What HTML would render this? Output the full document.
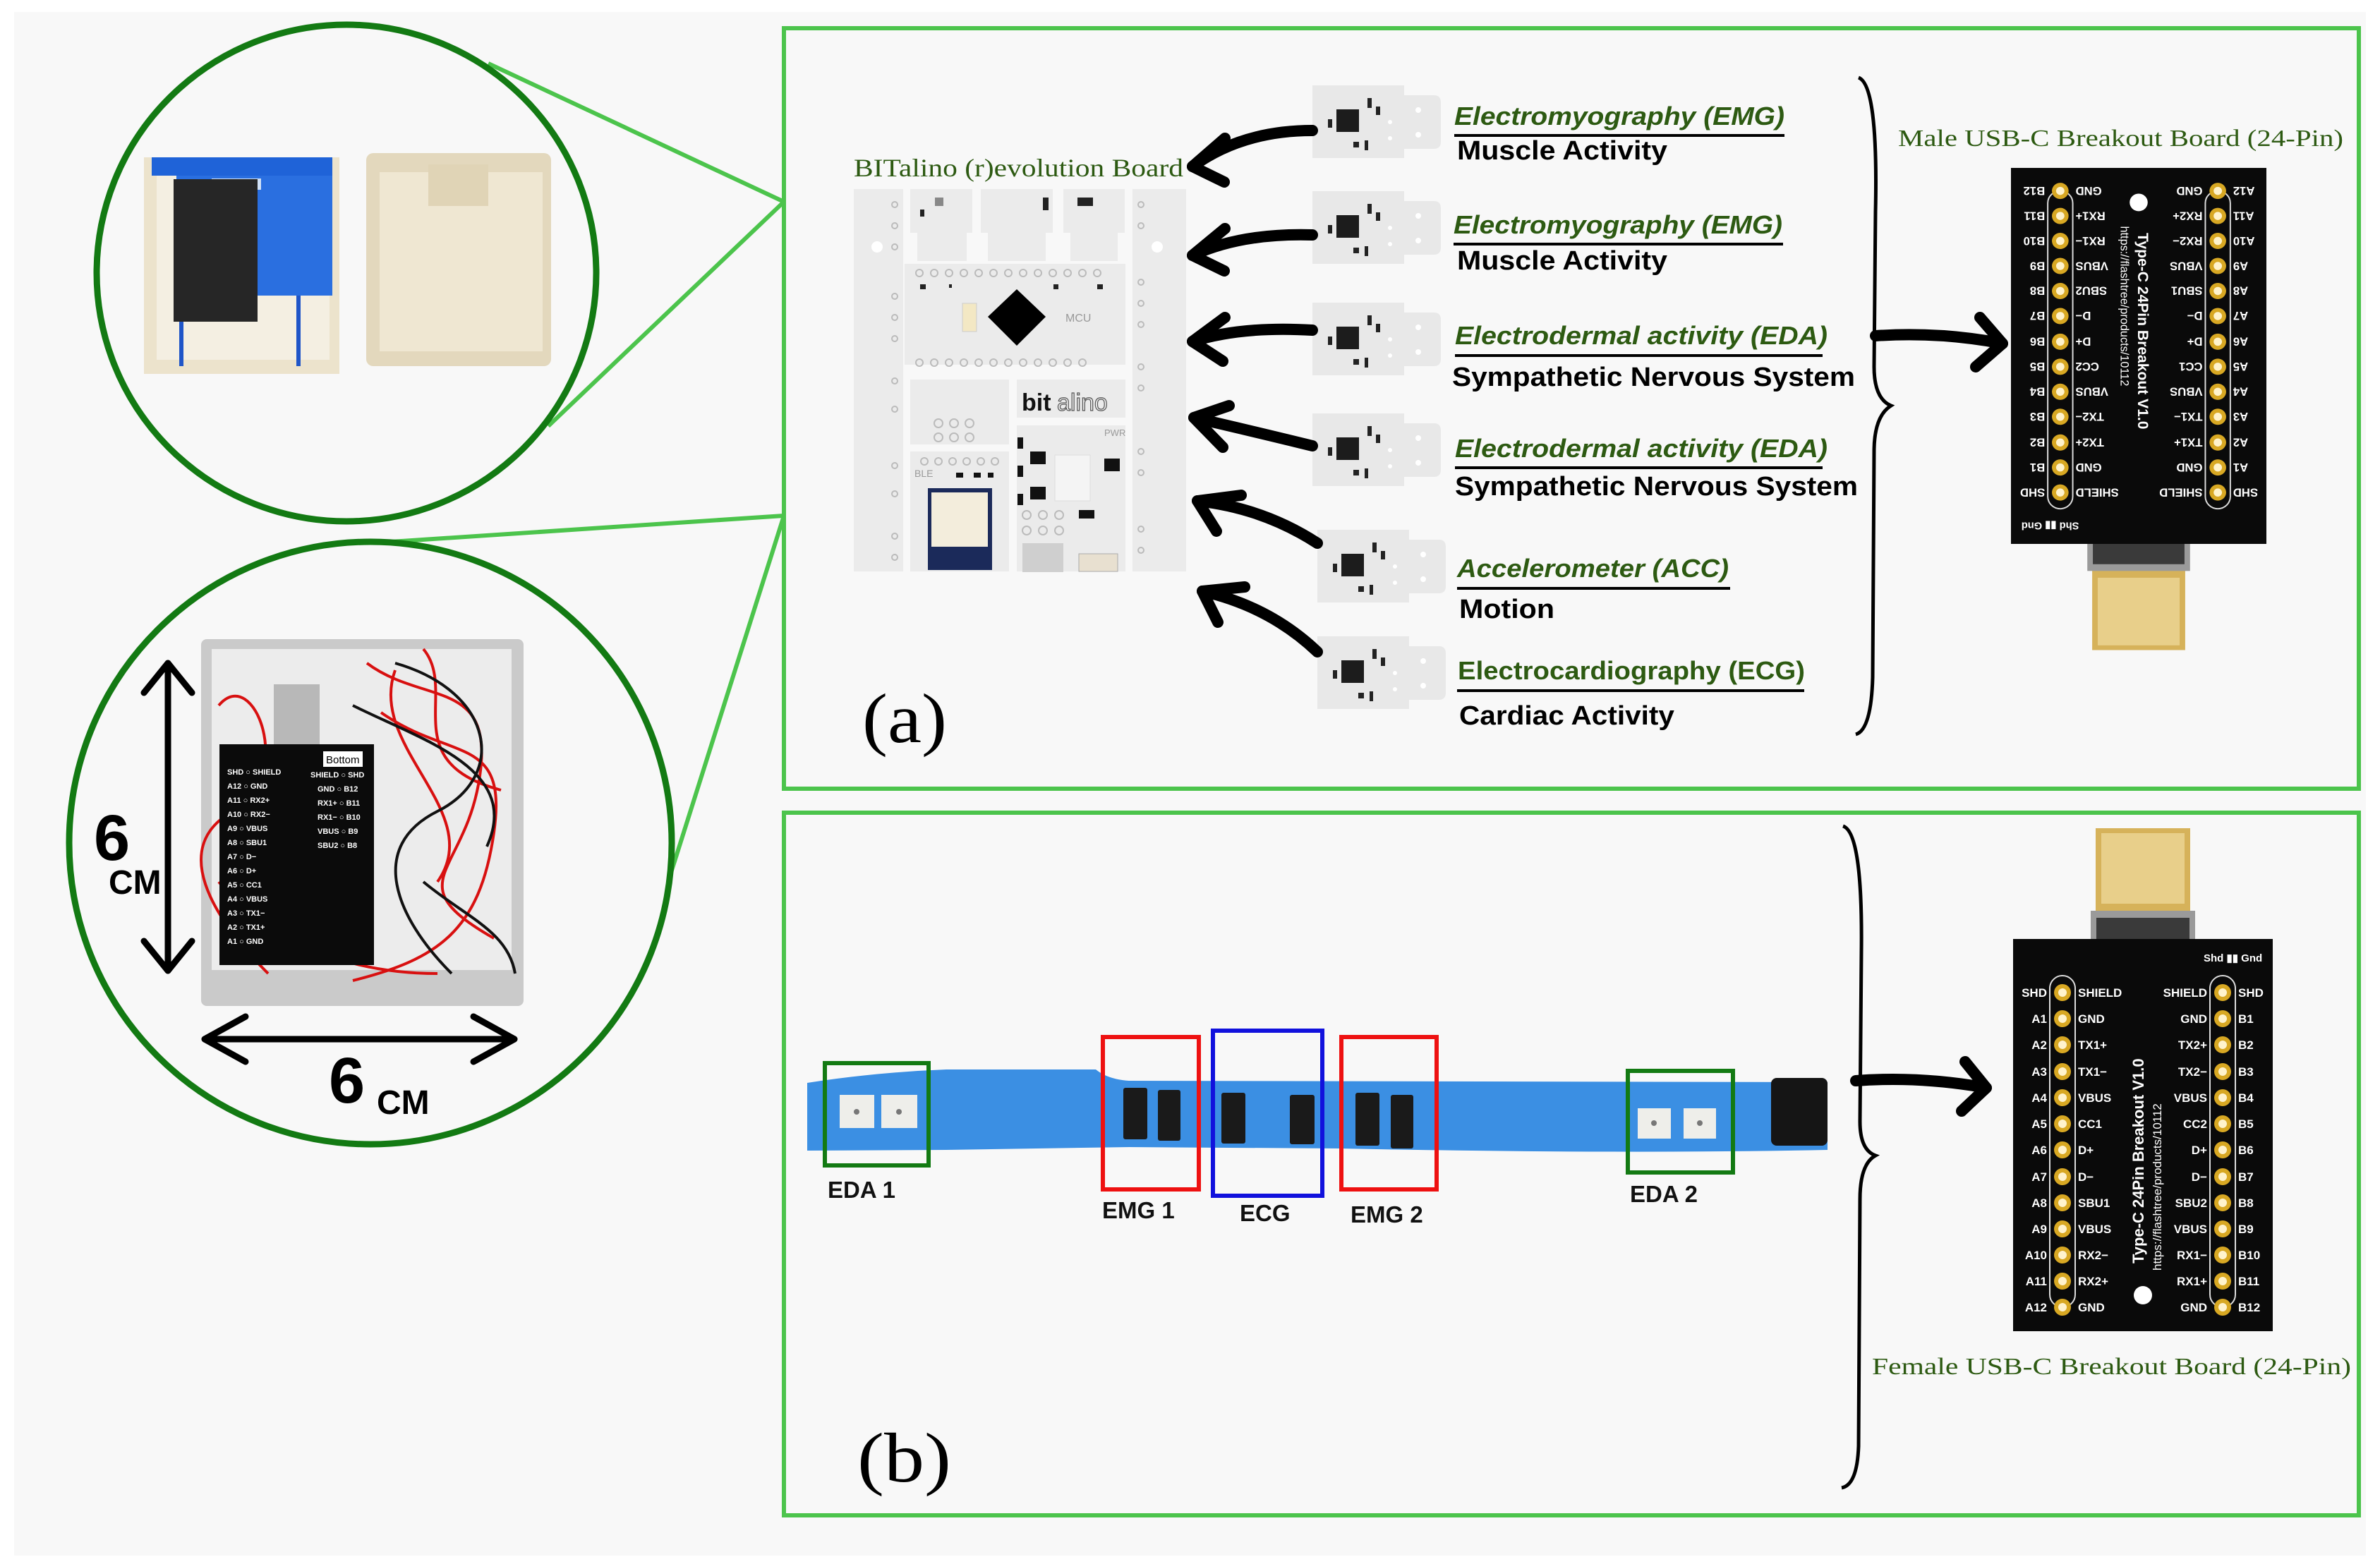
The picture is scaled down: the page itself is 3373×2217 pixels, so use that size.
<!DOCTYPE html>
<html><head><meta charset="utf-8">
<style>
html,body{margin:0;padding:0;background:#fff;}
svg{display:block;}
text{font-family:"Liberation Sans",sans-serif;}
.lab{font-family:"Liberation Sans Narrow","Liberation Sans",sans-serif;font-weight:bold;}
.ser{font-family:"Liberation Serif",serif;}
.mono{font-family:"Liberation Mono",monospace;font-weight:bold;}
.pn{font-family:"Liberation Sans",sans-serif;font-weight:bold;fill:#fff;font-size:17px;}
</style></head><body>
<svg width="3373" height="2217" viewBox="0 0 3373 2217" xmlns="http://www.w3.org/2000/svg">
<defs>
<g id="mod">
  <path d="M0,0 H130 V14 H172 Q182,14 182,24 V80 Q182,90 172,90 H130 V103 H0 Z" fill="#e8e8e8"/>
  <rect x="34" y="34" width="32" height="32" fill="#1c1c1c"/>
  <rect x="78" y="18" width="6" height="14" fill="#222"/><rect x="90" y="30" width="6" height="12" fill="#222"/>
  <rect x="22" y="48" width="6" height="12" fill="#222"/><rect x="58" y="80" width="8" height="8" fill="#222"/>
  <rect x="74" y="78" width="5" height="14" fill="#222"/>
  <circle cx="150" cy="35" r="4" fill="#fff"/><circle cx="150" cy="70" r="4" fill="#fff"/>
  <circle cx="110" cy="52" r="3" fill="#fff"/><circle cx="110" cy="75" r="3" fill="#fff"/>
</g>
<g id="usb">
  <rect x="117" y="-157" width="134" height="120" fill="#d6b25a"/>
  <rect x="125" y="-150" width="118" height="100" fill="#e8cf8a"/>
  <rect x="110" y="-40" width="148" height="55" fill="#9a9a9a"/>
  <rect x="118" y="-30" width="132" height="40" fill="#3a3a3a"/>
  <rect x="0" y="0" width="368" height="556" fill="#0a0a0a"/>
  <rect x="52" y="52" width="36" height="470" rx="18" fill="none" stroke="#ddd" stroke-width="2"/>
  <rect x="279" y="52" width="36" height="470" rx="18" fill="none" stroke="#ddd" stroke-width="2"/>
  <g fill="#d8a823">
    <circle cx="70" cy="76" r="12"/><circle cx="70" cy="113" r="12"/><circle cx="70" cy="150" r="12"/><circle cx="70" cy="188" r="12"/><circle cx="70" cy="225" r="12"/><circle cx="70" cy="262" r="12"/><circle cx="70" cy="299" r="12"/><circle cx="70" cy="337" r="12"/><circle cx="70" cy="374" r="12"/><circle cx="70" cy="411" r="12"/><circle cx="70" cy="448" r="12"/><circle cx="70" cy="485" r="12"/><circle cx="70" cy="522" r="12"/>
    <circle cx="297" cy="76" r="12"/><circle cx="297" cy="113" r="12"/><circle cx="297" cy="150" r="12"/><circle cx="297" cy="188" r="12"/><circle cx="297" cy="225" r="12"/><circle cx="297" cy="262" r="12"/><circle cx="297" cy="299" r="12"/><circle cx="297" cy="337" r="12"/><circle cx="297" cy="374" r="12"/><circle cx="297" cy="411" r="12"/><circle cx="297" cy="448" r="12"/><circle cx="297" cy="485" r="12"/><circle cx="297" cy="522" r="12"/>
  </g>
  <g fill="#fff3cc">
    <circle cx="70" cy="76" r="6"/><circle cx="70" cy="113" r="6"/><circle cx="70" cy="150" r="6"/><circle cx="70" cy="188" r="6"/><circle cx="70" cy="225" r="6"/><circle cx="70" cy="262" r="6"/><circle cx="70" cy="299" r="6"/><circle cx="70" cy="337" r="6"/><circle cx="70" cy="374" r="6"/><circle cx="70" cy="411" r="6"/><circle cx="70" cy="448" r="6"/><circle cx="70" cy="485" r="6"/><circle cx="70" cy="522" r="6"/>
    <circle cx="297" cy="76" r="6"/><circle cx="297" cy="113" r="6"/><circle cx="297" cy="150" r="6"/><circle cx="297" cy="188" r="6"/><circle cx="297" cy="225" r="6"/><circle cx="297" cy="262" r="6"/><circle cx="297" cy="299" r="6"/><circle cx="297" cy="337" r="6"/><circle cx="297" cy="374" r="6"/><circle cx="297" cy="411" r="6"/><circle cx="297" cy="448" r="6"/><circle cx="297" cy="485" r="6"/><circle cx="297" cy="522" r="6"/>
  </g>
  <g class="pn" text-anchor="end">
    <text x="48" y="82">SHD</text><text x="48" y="119">A1</text><text x="48" y="156">A2</text><text x="48" y="194">A3</text><text x="48" y="231">A4</text><text x="48" y="268">A5</text><text x="48" y="305">A6</text><text x="48" y="343">A7</text><text x="48" y="380">A8</text><text x="48" y="417">A9</text><text x="48" y="454">A10</text><text x="48" y="491">A11</text><text x="48" y="528">A12</text>
    <text x="275" y="82">SHIELD</text><text x="275" y="119">GND</text><text x="275" y="156">TX2+</text><text x="275" y="194">TX2−</text><text x="275" y="231">VBUS</text><text x="275" y="268">CC2</text><text x="275" y="305">D+</text><text x="275" y="343">D−</text><text x="275" y="380">SBU2</text><text x="275" y="417">VBUS</text><text x="275" y="454">RX1−</text><text x="275" y="491">RX1+</text><text x="275" y="528">GND</text>
  </g>
  <g class="pn">
    <text x="92" y="82">SHIELD</text><text x="92" y="119">GND</text><text x="92" y="156">TX1+</text><text x="92" y="194">TX1−</text><text x="92" y="231">VBUS</text><text x="92" y="268">CC1</text><text x="92" y="305">D+</text><text x="92" y="343">D−</text><text x="92" y="380">SBU1</text><text x="92" y="417">VBUS</text><text x="92" y="454">RX2−</text><text x="92" y="491">RX2+</text><text x="92" y="528">GND</text>
    <text x="319" y="82">SHD</text><text x="319" y="119">B1</text><text x="319" y="156">B2</text><text x="319" y="194">B3</text><text x="319" y="231">B4</text><text x="319" y="268">B5</text><text x="319" y="305">B6</text><text x="319" y="343">B7</text><text x="319" y="380">B8</text><text x="319" y="417">B9</text><text x="319" y="454">B10</text><text x="319" y="491">B11</text><text x="319" y="528">B12</text>
    <text x="270" y="32" font-size="15">Shd ▮▮ Gnd</text>
  </g>
  <text transform="translate(185,460) rotate(-90)" fill="#fff" font-size="22" font-weight="bold">Type-C 24Pin Breakout V1.0</text>
  <text transform="translate(210,470) rotate(-90)" fill="#fff" font-size="17">https://flashtree/products/10112</text>
  <circle cx="184" cy="505" r="13" fill="#fff"/>
</g>
</defs>

<rect x="0" y="0" width="3373" height="2217" fill="#fff"/>
<rect x="20" y="17" width="3333" height="2188" fill="#f8f8f8"/>

<!-- connecting lines -->
<g stroke="#4cc44c" stroke-width="6" fill="none">
  <line x1="692" y1="90" x2="1111" y2="286"/>
  <line x1="777" y1="604" x2="1111" y2="286"/>
  <line x1="554" y1="768" x2="1111" y2="731"/>
  <line x1="950" y1="1240" x2="1111" y2="731"/>
</g>

<!-- top circle -->
<ellipse cx="491" cy="387" rx="354" ry="352" fill="#f8f8f8" stroke="#137a13" stroke-width="9"/>
<rect x="204" y="223" width="277" height="307" fill="#ece3cc"/>
<rect x="222" y="240" width="245" height="270" fill="#f4efe2"/>
<rect x="215" y="223" width="256" height="26" fill="#1f63d8"/>
<rect x="250" y="249" width="221" height="170" fill="#2a6fe0"/>
<rect x="300" y="253" width="70" height="16" fill="#cfe0f6"/>
<rect x="254" y="419" width="6" height="100" fill="#1f55c8"/>
<rect x="420" y="419" width="6" height="100" fill="#1f55c8"/>
<rect x="246" y="254" width="119" height="202" fill="#262626"/>
<rect x="519" y="217" width="262" height="302" rx="10" fill="#e3d8bd"/>
<rect x="538" y="244" width="231" height="254" fill="#efe7d2"/>
<rect x="607" y="233" width="85" height="59" fill="#e0d4b6"/>

<!-- bottom circle -->
<ellipse cx="525" cy="1195" rx="427" ry="427" fill="#f8f8f8" stroke="#137a13" stroke-width="9"/>
<rect x="285" y="906" width="457" height="520" rx="8" fill="#cacaca"/>
<rect x="300" y="920" width="425" height="455" fill="#ececec"/>
<rect x="388" y="970" width="65" height="90" fill="#b8b8b8"/>
<g fill="none" stroke="#d81010" stroke-width="4">
  <path d="M310,1000 C360,940 420,1100 330,1150 S 300,1300 380,1380"/>
  <path d="M520,940 C600,1000 700,960 680,1100 S 560,1250 700,1330"/>
  <path d="M540,1010 C640,1080 720,1040 700,1180 S 620,1360 500,1390"/>
  <path d="M560,950 C520,1060 690,1150 620,1250"/>
  <path d="M310,1250 C350,1300 450,1380 620,1380"/>
  <path d="M600,920 C650,980 560,1080 710,1120"/>
  <path d="M320,1100 C300,1200 360,1260 320,1340"/>
</g>
<g fill="none" stroke="#111" stroke-width="4">
  <path d="M560,940 C700,980 720,1100 620,1150 S 560,1300 640,1380"/>
  <path d="M500,1000 C600,1050 740,1090 690,1200"/>
  <path d="M600,1250 C660,1300 720,1320 730,1380"/>
</g>
<rect x="311" y="1055" width="219" height="313" fill="#0b0b0b"/>
<rect x="458" y="1065" width="56" height="22" fill="#fff"/>
<text x="462" y="1082" font-size="15" fill="#000">Bottom</text>
<g font-size="11" fill="#fff" font-weight="bold">
  <text x="322" y="1098">SHD ○ SHIELD</text><text x="322" y="1118">A12 ○ GND</text><text x="322" y="1138">A11 ○ RX2+</text><text x="322" y="1158">A10 ○ RX2−</text><text x="322" y="1178">A9 ○ VBUS</text><text x="322" y="1198">A8 ○ SBU1</text><text x="322" y="1218">A7 ○ D−</text><text x="322" y="1238">A6 ○ D+</text><text x="322" y="1258">A5 ○ CC1</text><text x="322" y="1278">A4 ○ VBUS</text><text x="322" y="1298">A3 ○ TX1−</text><text x="322" y="1318">A2 ○ TX1+</text><text x="322" y="1338">A1 ○ GND</text>
  <text x="440" y="1102">SHIELD ○ SHD</text><text x="450" y="1122">GND ○ B12</text><text x="450" y="1142">RX1+ ○ B11</text><text x="450" y="1162">RX1− ○ B10</text><text x="450" y="1182">VBUS ○ B9</text><text x="450" y="1202">SBU2 ○ B8</text>
</g>
<g stroke="#000" stroke-width="9" fill="none" stroke-linecap="round" stroke-linejoin="round">
  <line x1="238" y1="940" x2="238" y2="1376"/>
  <polyline points="204,982 238,940 272,982"/>
  <polyline points="204,1334 238,1376 272,1334"/>
  <line x1="290" y1="1473" x2="729" y2="1473"/>
  <polyline points="348,1441 290,1473 348,1505"/>
  <polyline points="671,1441 729,1473 671,1505"/>
</g>
<text x="133" y="1219" font-size="92" font-weight="bold" fill="#000">6</text>
<text x="154" y="1267" font-size="48" font-weight="bold" fill="#000">CM</text>
<text x="466" y="1563" font-size="92" font-weight="bold" fill="#000">6</text>
<text x="534" y="1579" font-size="48" font-weight="bold" fill="#000">CM</text>

<!-- box a -->
<rect x="1111" y="40" width="2232" height="1078" fill="#f8f8f8" stroke="#4cc44c" stroke-width="6"/>
<text x="1210" y="250" class="ser" font-size="36" fill="#2d5a12" textLength="467" lengthAdjust="spacingAndGlyphs">BITalino (r)evolution Board</text>

<!-- bitalino board -->
<g>
  <rect x="1210" y="268" width="70" height="542" fill="#ebebeb"/>
  <rect x="1605" y="268" width="76" height="542" fill="#ebebeb"/>
  <path d="M1290,268 H1378 V330 H1370 V370 H1300 V330 H1290 Z" fill="#ebebeb"/>
  <path d="M1390,268 H1492 V330 H1482 V370 H1400 V330 H1390 Z" fill="#ebebeb"/>
  <path d="M1507,268 H1594 V330 H1584 V370 H1517 V330 H1507 Z" fill="#ebebeb"/>
  <rect x="1282" y="374" width="313" height="143" fill="#ebebeb"/>
  <rect x="1290" y="538" width="140" height="92" fill="#ebebeb"/>
  <rect x="1290" y="640" width="140" height="170" fill="#ebebeb"/>
  <rect x="1441" y="538" width="154" height="54" fill="#ebebeb"/>
  <rect x="1441" y="603" width="154" height="207" fill="#ebebeb"/>
  <g fill="none" stroke="#bbb" stroke-width="2">
    <circle cx="1303" cy="387" r="5"/><circle cx="1324" cy="387" r="5"/><circle cx="1345" cy="387" r="5"/><circle cx="1366" cy="387" r="5"/><circle cx="1387" cy="387" r="5"/><circle cx="1408" cy="387" r="5"/><circle cx="1429" cy="387" r="5"/><circle cx="1450" cy="387" r="5"/><circle cx="1471" cy="387" r="5"/><circle cx="1492" cy="387" r="5"/><circle cx="1513" cy="387" r="5"/><circle cx="1534" cy="387" r="5"/><circle cx="1555" cy="387" r="5"/>
    <circle cx="1303" cy="514" r="5"/><circle cx="1324" cy="514" r="5"/><circle cx="1345" cy="514" r="5"/><circle cx="1366" cy="514" r="5"/><circle cx="1387" cy="514" r="5"/><circle cx="1408" cy="514" r="5"/><circle cx="1429" cy="514" r="5"/><circle cx="1450" cy="514" r="5"/><circle cx="1471" cy="514" r="5"/><circle cx="1492" cy="514" r="5"/><circle cx="1513" cy="514" r="5"/><circle cx="1534" cy="514" r="5"/>
    <circle cx="1268" cy="290" r="4"/><circle cx="1268" cy="320" r="4"/><circle cx="1268" cy="350" r="4"/><circle cx="1268" cy="420" r="4"/><circle cx="1268" cy="450" r="4"/><circle cx="1268" cy="480" r="4"/><circle cx="1268" cy="540" r="4"/><circle cx="1268" cy="580" r="4"/><circle cx="1268" cy="660" r="4"/><circle cx="1268" cy="700" r="4"/><circle cx="1268" cy="760" r="4"/><circle cx="1268" cy="790" r="4"/>
    <circle cx="1617" cy="290" r="4"/><circle cx="1617" cy="320" r="4"/><circle cx="1617" cy="400" r="4"/><circle cx="1617" cy="430" r="4"/><circle cx="1617" cy="460" r="4"/><circle cx="1617" cy="520" r="4"/><circle cx="1617" cy="550" r="4"/><circle cx="1617" cy="640" r="4"/><circle cx="1617" cy="670" r="4"/><circle cx="1617" cy="750" r="4"/><circle cx="1617" cy="780" r="4"/>
    <circle cx="1330" cy="600" r="6"/><circle cx="1352" cy="600" r="6"/><circle cx="1374" cy="600" r="6"/><circle cx="1330" cy="620" r="6"/><circle cx="1352" cy="620" r="6"/><circle cx="1374" cy="620" r="6"/>
    <circle cx="1310" cy="654" r="5"/><circle cx="1330" cy="654" r="5"/><circle cx="1350" cy="654" r="5"/><circle cx="1370" cy="654" r="5"/><circle cx="1390" cy="654" r="5"/><circle cx="1410" cy="654" r="5"/>
    <circle cx="1455" cy="730" r="6"/><circle cx="1478" cy="730" r="6"/><circle cx="1501" cy="730" r="6"/><circle cx="1455" cy="752" r="6"/><circle cx="1478" cy="752" r="6"/><circle cx="1501" cy="752" r="6"/>
  </g>
  <circle cx="1243" cy="350" r="8" fill="#fff"/><circle cx="1640" cy="350" r="8" fill="#fff"/>
  <rect x="1304" y="297" width="6" height="10" fill="#222"/><rect x="1325" y="280" width="12" height="12" fill="#888"/>
  <rect x="1478" y="280" width="8" height="18" fill="#222"/><rect x="1527" y="280" width="22" height="12" fill="#222"/>
  <rect x="1304" y="403" width="8" height="7" fill="#222"/><rect x="1345" y="403" width="4" height="5" fill="#222"/><rect x="1493" y="403" width="7" height="7" fill="#222"/><rect x="1555" y="403" width="8" height="7" fill="#222"/>
  <polygon points="1441,410 1482,449 1441,490 1400,449" fill="#000"/>
  <rect x="1364" y="430" width="20" height="40" fill="#f3e8c4" stroke="#ccc"/>
  <text x="1510" y="456" font-size="16" fill="#999">MCU</text>
  <text x="1448" y="582" font-size="34" font-weight="bold" fill="#111">bit</text>
  <text x="1498" y="582" font-size="34" fill="none" stroke="#555" stroke-width="1.2">alino</text>
  <text x="1296" y="676" font-size="14" fill="#999">BLE</text>
  <text x="1565" y="618" font-size="13" fill="#999">PWR</text>
  <rect x="1442" y="620" width="8" height="16" fill="#111"/><rect x="1442" y="660" width="8" height="16" fill="#111"/><rect x="1442" y="700" width="8" height="16" fill="#111"/>
  <rect x="1460" y="640" width="22" height="18" fill="#111"/><rect x="1460" y="690" width="22" height="18" fill="#111"/>
  <rect x="1565" y="650" width="22" height="18" fill="#111"/><rect x="1529" y="723" width="22" height="12" fill="#111"/>
  <rect x="1495" y="645" width="50" height="65" fill="#f4f4f4" stroke="#ddd"/>
  <rect x="1355" y="670" width="10" height="7" fill="#111"/><rect x="1380" y="670" width="10" height="7" fill="#111"/><rect x="1400" y="670" width="8" height="7" fill="#111"/>
  <rect x="1315" y="692" width="91" height="116" fill="#1b2a5a"/>
  <rect x="1320" y="698" width="80" height="77" fill="#f3eddc"/>
  <rect x="1449" y="770" width="58" height="41" fill="#cfcfcf"/>
  <rect x="1529" y="785" width="55" height="25" fill="#e8e0d0" stroke="#aaa"/>
</g>

<!-- sensor modules -->
<use href="#mod" x="1860" y="121"/>
<use href="#mod" x="1860" y="271"/>
<use href="#mod" x="1860" y="429"/>
<use href="#mod" x="1860" y="586"/>
<use href="#mod" x="1867" y="751"/>
<use href="#mod" x="1867" y="902"/>

<!-- arrows to board -->
<g stroke="#000" stroke-width="16" fill="none" stroke-linecap="round" stroke-linejoin="round">
  <path d="M1860,185 Q1760,185 1690,236"/><polyline points="1736,196 1690,236 1735,258"/>
  <path d="M1860,333 Q1760,330 1690,362"/><polyline points="1736,324 1690,362 1735,384"/>
  <path d="M1860,468 Q1760,462 1690,484"/><polyline points="1736,450 1690,484 1733,512"/>
  <path d="M1860,632 Q1770,610 1692,592"/><polyline points="1742,575 1692,592 1733,634"/>
  <path d="M1867,770 Q1790,720 1697,710"/><polyline points="1759,702 1697,710 1724,753"/>
  <path d="M1867,924 Q1800,860 1704,838"/><polyline points="1764,832 1704,838 1726,882"/>
</g>

<!-- labels (a) -->
<g class="lab">
  <text x="2061" y="177" font-size="36" font-style="italic" fill="#2d5a12" textLength="468" lengthAdjust="spacingAndGlyphs">Electromyography (EMG)</text>
  <text x="2065" y="226" font-size="38" fill="#000" textLength="298" lengthAdjust="spacingAndGlyphs">Muscle Activity</text>
  <text x="2060" y="331" font-size="36" font-style="italic" fill="#2d5a12" textLength="466" lengthAdjust="spacingAndGlyphs">Electromyography (EMG)</text>
  <text x="2065" y="382" font-size="38" fill="#000" textLength="298" lengthAdjust="spacingAndGlyphs">Muscle Activity</text>
  <text x="2062" y="488" font-size="36" font-style="italic" fill="#2d5a12" textLength="528" lengthAdjust="spacingAndGlyphs">Electrodermal activity (EDA)</text>
  <text x="2058" y="547" font-size="38" fill="#000" textLength="571" lengthAdjust="spacingAndGlyphs">Sympathetic Nervous System</text>
  <text x="2062" y="648" font-size="36" font-style="italic" fill="#2d5a12" textLength="528" lengthAdjust="spacingAndGlyphs">Electrodermal activity (EDA)</text>
  <text x="2062" y="702" font-size="38" fill="#000" textLength="571" lengthAdjust="spacingAndGlyphs">Sympathetic Nervous System</text>
  <text x="2065" y="818" font-size="36" font-style="italic" fill="#2d5a12" textLength="385" lengthAdjust="spacingAndGlyphs">Accelerometer (ACC)</text>
  <text x="2068" y="876" font-size="38" fill="#000" textLength="135" lengthAdjust="spacingAndGlyphs">Motion</text>
  <text x="2066" y="963" font-size="36" fill="#2d5a12" textLength="492" lengthAdjust="spacingAndGlyphs">Electrocardiography (ECG)</text>
  <text x="2068" y="1027" font-size="38" fill="#000" textLength="305" lengthAdjust="spacingAndGlyphs">Cardiac Activity</text>
</g>
<g stroke="#000" stroke-width="4">
  <line x1="2061" y1="192" x2="2529" y2="192"/>
  <line x1="2060" y1="346" x2="2527" y2="346"/>
  <line x1="2062" y1="504" x2="2583" y2="504"/>
  <line x1="2062" y1="663" x2="2583" y2="663"/>
  <line x1="2065" y1="834" x2="2452" y2="834"/>
  <line x1="2065" y1="979" x2="2557" y2="979"/>
</g>

<!-- brace a + arrow -->
<path d="M2634,110 Q2662,120 2658,300 L2656,520 Q2656,565 2680,575 Q2656,590 2656,640 L2654,960 Q2652,1035 2630,1041" fill="none" stroke="#000" stroke-width="5"/>
<g stroke="#000" stroke-width="16" fill="none" stroke-linecap="round" stroke-linejoin="round">
  <path d="M2658,476 Q2750,470 2838,487"/><polyline points="2806,450 2838,487 2800,520"/>
</g>
<text x="2690" y="207" class="ser" font-size="34" fill="#2d5a12" textLength="631" lengthAdjust="spacingAndGlyphs">Male USB-C Breakout Board (24-Pin)</text>
<use href="#usb" transform="translate(3212,771) rotate(180) scale(0.9837,0.9586)"/>
<text x="1222" y="1052" class="ser" font-size="100" fill="#000" textLength="120" lengthAdjust="spacingAndGlyphs">(a)</text>

<!-- box b -->
<rect x="1111" y="1152" width="2232" height="996" fill="#f8f8f8" stroke="#4cc44c" stroke-width="6"/>
<path d="M1144,1535 Q1240,1520 1341,1516 L1553,1516 Q1570,1530 1600,1532 L2590,1534 L2590,1630 Q2300,1636 1900,1628 L1600,1626 L1341,1630 L1144,1631 Z" fill="#3b8fe3"/>
<rect x="2510" y="1528" width="80" height="96" rx="8" fill="#151515"/>
<rect x="1190" y="1552" width="49" height="47" fill="#eeeeea"/><rect x="1249" y="1552" width="51" height="47" fill="#eeeeea"/>
<circle cx="1214" cy="1576" r="4" fill="#777"/><circle cx="1274" cy="1576" r="4" fill="#777"/>
<rect x="2321" y="1571" width="47" height="43" fill="#eeeeea"/><rect x="2386" y="1571" width="46" height="43" fill="#eeeeea"/>
<circle cx="2344" cy="1592" r="4" fill="#777"/><circle cx="2409" cy="1592" r="4" fill="#777"/>
<g fill="#1a1a1a">
  <rect x="1592" y="1542" width="34" height="73" rx="3"/><rect x="1641" y="1545" width="32" height="72" rx="3"/>
  <rect x="1731" y="1549" width="34" height="72" rx="3"/><rect x="1828" y="1552" width="35" height="70" rx="3"/>
  <rect x="1921" y="1549" width="34" height="75" rx="3"/><rect x="1971" y="1552" width="32" height="76" rx="3"/>
</g>
<g fill="none" stroke-width="6">
  <rect x="1169" y="1507" width="147" height="145" stroke="#137a13"/>
  <rect x="2307" y="1518" width="149" height="144" stroke="#137a13"/>
  <rect x="1563" y="1470" width="136" height="216" stroke="#ee1111"/>
  <rect x="1901" y="1470" width="135" height="216" stroke="#ee1111"/>
  <rect x="1719" y="1461" width="155" height="234" stroke="#1111dd"/>
</g>
<g class="mono" font-size="33" fill="#111">
  <text x="1173" y="1698">EDA 1</text>
  <text x="1562" y="1727">EMG 1</text>
  <text x="1757" y="1731">ECG</text>
  <text x="1914" y="1733">EMG 2</text>
  <text x="2310" y="1704">EDA 2</text>
</g>

<!-- brace b + arrow -->
<path d="M2612,1171 Q2640,1180 2638,1350 L2636,1590 Q2636,1630 2658,1638 Q2636,1650 2636,1700 L2634,2050 Q2632,2105 2610,2109" fill="none" stroke="#000" stroke-width="5"/>
<g stroke="#000" stroke-width="16" fill="none" stroke-linecap="round" stroke-linejoin="round">
  <path d="M2630,1532 Q2720,1525 2815,1542"/><polyline points="2785,1505 2815,1542 2780,1575"/>
</g>
<use href="#usb" transform="translate(2853,1331)"/>
<text x="2653" y="1948" class="ser" font-size="34" fill="#2d5a12" textLength="679" lengthAdjust="spacingAndGlyphs">Female USB-C Breakout Board (24-Pin)</text>
<text x="1215" y="2100" class="ser" font-size="100" fill="#000" textLength="133" lengthAdjust="spacingAndGlyphs">(b)</text>
</svg>
</body></html>
